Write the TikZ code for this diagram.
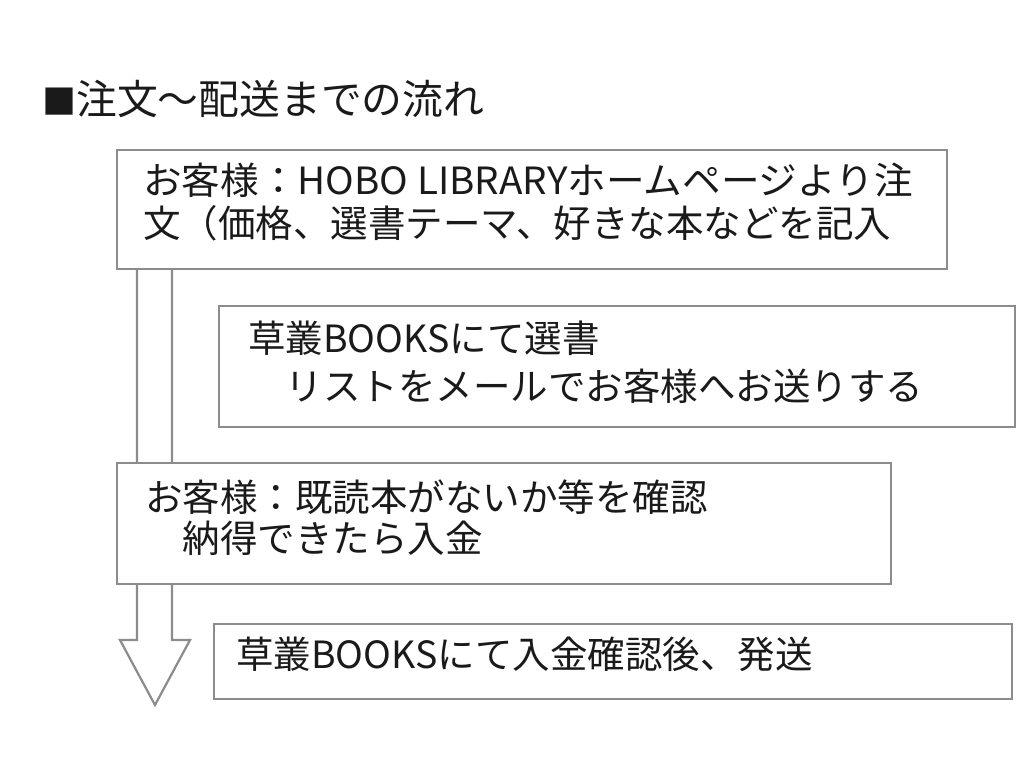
\documentclass[tikz,border=0pt]{standalone}
\usepackage{fontspec}
\setmainfont{Noto Sans CJK JP}
\definecolor{edge}{HTML}{8C8C8C}
\definecolor{ink}{HTML}{1A1A1A}
\tikzset{
  stepbox/.style={draw=edge, line width=2.2pt, fill=white},
  txt/.style={anchor=base west, inner sep=0pt, text=ink, font=\fontsize{37.5}{44}\selectfont},
  ttl/.style={anchor=base west, inner sep=0pt, text=ink, font=\fontsize{40.8}{48}\selectfont},
  arrowshape/.style={draw=edge, line width=2.2pt, fill=white, line join=miter}
}
\begin{document}
\begin{tikzpicture}[x=1pt,y=-1pt]
\useasboundingbox[fill=white] (0,0) rectangle (1024,768);
% title
\node[ttl] (title) at (42,114) {{\fontsize{34}{40}\selectfont ■}注文～配送までの流れ};
% big down arrow (behind boxes)
\coordinate (ashaftL) at (137,240);
\coordinate (ashaftR) at (172,240);
\coordinate (aheadL) at (120,640);
\coordinate (aheadR) at (190,640);
\coordinate (atip) at (155,705);
\draw[arrowshape] (ashaftL) -- (137,640) -- (aheadL) -- (atip) -- (aheadR) -- (172,640) -- (ashaftR);
% boxes
\draw[stepbox] (117,150) rectangle (947,269);
\node[txt] (b1l1) at (143,194) {\scalebox{1.03}[1]{お客様：HOBO LIBRARYホームページより注}};
\node[txt] (b1l2) at (143,237) {文（価格、選書テーマ、好きな本などを記入};
\draw[stepbox] (219,306) rectangle (1015,427);
\node[txt] (b2l1) at (248,352) {草叢BOOKSにて選書};
\node[txt] (b2l2) at (248,400) {　リストをメールでお客様へお送りする};
\draw[stepbox] (117,463) rectangle (891,584);
\node[txt] (b3l1) at (145,511) {お客様：既読本がないか等を確認};
\node[txt] (b3l2) at (145,552) {　納得できたら入金};
\draw[stepbox] (214,624) rectangle (1012,699);
\node[txt] (b4l1) at (236,668) {草叢BOOKSにて入金確認後、発送};
\end{tikzpicture}
\end{document}
